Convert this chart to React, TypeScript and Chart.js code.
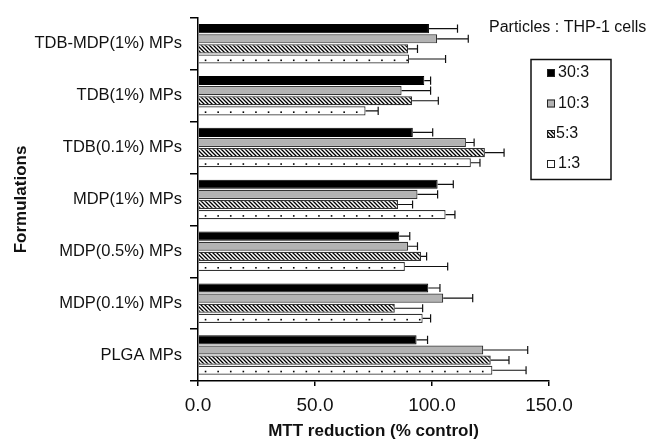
import React, { useEffect, useRef } from 'react';
import { Chart, registerables } from 'chart.js';

Chart.register(...registerables);

const categories = [
  'TDB-MDP(1%) MPs',
  'TDB(1%) MPs',
  'TDB(0.1%) MPs',
  'MDP(1%) MPs',
  'MDP(0.5%) MPs',
  'MDP(0.1%) MPs',
  'PLGA MPs',
];
const ratioLabels = ['30:3', '10:3', '5:3', '1:3'];
const mean30 = [98.7, 96.7, 91.8, 102.4, 86.0, 98.4, 93.4];
const sd30 = [12.2, 2.7, 8.5, 6.7, 4.5, 5.0, 4.7];
const mean10 = [102.2, 87.0, 114.5, 93.8, 89.8, 104.8, 121.9];
const sd10 = [13.3, 12.4, 3.5, 8.6, 4.0, 12.6, 19.0];
const mean5 = [89.8, 91.5, 122.6, 85.5, 95.3, 84.1, 125.1];
const sd5 = [4.0, 11.2, 8.2, 6.2, 2.4, 11.9, 7.8];
const mean1 = [90.2, 71.6, 116.6, 105.8, 88.4, 96.0, 125.8];
const sd1 = [15.6, 5.4, 3.9, 4.0, 18.3, 3.4, 14.4];
const xTicks = [0, 50, 100, 150];
const annotationText = 'Particles : THP-1 cells';

const FONT = '"Liberation Sans", Arial, Helvetica, sans-serif';

function makeHatch(): CanvasPattern | string {
  const c = document.createElement('canvas');
  c.width = 4;
  c.height = 4;
  const g = c.getContext('2d');
  if (!g) return '#888';
  g.fillStyle = '#fff';
  g.fillRect(0, 0, 4, 4);
  g.strokeStyle = '#000';
  g.lineWidth = 1.3;
  g.beginPath();
  g.moveTo(-1, -1);
  g.lineTo(5, 5);
  g.moveTo(3, -1);
  g.lineTo(5, 1);
  g.moveTo(-1, 3);
  g.lineTo(1, 5);
  g.stroke();
  return g.createPattern(c, 'repeat') || '#888';
}

export default function App() {
  const ref = useRef<HTMLCanvasElement | null>(null);

  useEffect(() => {
    const canvas = ref.current;
    if (!canvas) return;
    document.body.style.margin = '0';
    const hatch = makeHatch();
    const sds = [sd30, sd10, sd5, sd1];
    const fills: any[] = ['#000', '#b3b3b3', hatch, '#fff'];

    const errorPlugin = {
      id: 'errbars',
      afterDatasetsDraw(chart: any) {
        const ctx = chart.ctx;
        const xs = chart.scales.x;
        ctx.save();
        // dots on 1:3 bars
        const m3 = chart.getDatasetMeta(3);
        ctx.fillStyle = '#000';
        m3.data.forEach((bar: any) => {
          const x0 = Math.min(bar.base, bar.x);
          const x1 = Math.max(bar.base, bar.x);
          for (let x = x0 + 6; x < x1 - 2; x += 12.6) {
            ctx.fillRect(x, bar.y + 0.5, 1.6, 1.6);
          }
        });
        ctx.strokeStyle = '#111';
        ctx.lineWidth = 1.2;
        chart.data.datasets.forEach((ds: any, i: number) => {
          const meta = chart.getDatasetMeta(i);
          meta.data.forEach((bar: any, j: number) => {
            const v = ds.data[j];
            const e = sds[i][j];
            const xa = xs.getPixelForValue(v);
            const xb = xs.getPixelForValue(v + e);
            const h = bar.height * 0.9;
            ctx.beginPath();
            ctx.moveTo(xa, bar.y);
            ctx.lineTo(xb, bar.y);
            ctx.moveTo(xb, bar.y - h / 2);
            ctx.lineTo(xb, bar.y + h / 2);
            ctx.stroke();
          });
        });
        ctx.restore();
      },
      afterDraw(chart: any) {
        const ctx = chart.ctx;
        ctx.save();
        ctx.fillStyle = '#111';
        ctx.font = `16px ${FONT}`;
        ctx.textBaseline = 'middle';
        ctx.textAlign = 'left';
        ctx.fillText(annotationText, 489, 28);
        // legend box
        ctx.strokeStyle = '#111';
        ctx.lineWidth = 1.5;
        ctx.strokeRect(531, 59.5, 80, 120);
        const rows = [73, 103.5, 134, 164];
        ratioLabels.forEach((lab, i) => {
          const y = rows[i];
          const sx = 547;
          const sz = 8;
          ctx.fillStyle = fills[i];
          ctx.fillRect(sx, y - sz / 2, sz, sz);
          ctx.strokeStyle = '#222';
          ctx.lineWidth = 1;
          ctx.strokeRect(sx + 0.5, y - sz / 2 + 0.5, sz - 1, sz - 1);
          ctx.fillStyle = '#111';
          ctx.font = `16px ${FONT}`;
          ctx.fillText(lab, sx + sz + (i === 2 ? 1 : 3), y);
        });
        ctx.restore();
      },
    };

    const chart = new Chart(canvas, {
      type: 'bar',
      data: {
        labels: categories,
        datasets: [
          { label: ratioLabels[0], data: mean30, backgroundColor: fills[0], borderColor: '#000', borderWidth: 1 },
          { label: ratioLabels[1], data: mean10, backgroundColor: fills[1], borderColor: '#333', borderWidth: 1.2 },
          { label: ratioLabels[2], data: mean5, backgroundColor: fills[2], borderColor: '#333', borderWidth: 1.2 },
          { label: ratioLabels[3], data: mean1, backgroundColor: fills[3], borderColor: '#333', borderWidth: 1.2 },
        ],
      },
      options: {
        indexAxis: 'y',
        responsive: false,
        animation: false,
        devicePixelRatio: 1,
        datasets: { bar: { categoryPercentage: 0.78, barPercentage: 0.9 } },
        layout: { padding: { top: 10, right: 108, bottom: 0, left: 0 } },
        plugins: { legend: { display: false }, tooltip: { enabled: false } },
        scales: {
          x: {
            type: 'linear',
            min: 0,
            max: 150,
            afterBuildTicks: (s: any) => {
              s.ticks = xTicks.map((v) => ({ value: v }));
            },
            afterFit: (s: any) => {
              s.height = 62;
            },
            ticks: {
              callback: (v: any) => Number(v).toFixed(1),
              font: { family: FONT, size: 19 },
              color: '#111',
              padding: 8,
              maxRotation: 0,
            },
            grid: { drawOnChartArea: false, drawTicks: true, tickLength: 5, color: '#000', lineWidth: 1.5 },
            border: { display: true, color: '#000', width: 1.5 },
            title: {
              display: true,
              text: 'MTT reduction (% control)',
              font: { family: FONT, size: 17, weight: 'bold' },
              color: '#111',
              padding: { top: 0, bottom: 1 },
            },
          },
          y: {
            type: 'category',
            offset: true,
            afterFit: (s: any) => {
              s.width = 198;
            },
            ticks: { font: { family: FONT, size: 16.5 }, color: '#111', padding: 8, autoSkip: false },
            grid: { offset: true, drawOnChartArea: false, tickLength: 8, color: '#000', lineWidth: 1.5 },
            border: { display: true, color: '#000', width: 1.5 },
            title: {
              display: true,
              text: 'Formulations',
              font: { family: FONT, size: 17, weight: 'bold' },
              color: '#111',
              padding: { top: 11, bottom: 0 },
            },
          },
        },
      } as any,
      plugins: [errorPlugin],
    });
    return () => chart.destroy();
  }, []);

  return (
    <canvas
      ref={ref}
      width={657}
      height={443}
      style={{ position: 'absolute', left: 0, top: 0, width: 657, height: 443, display: 'block' }}
    />
  );
}
